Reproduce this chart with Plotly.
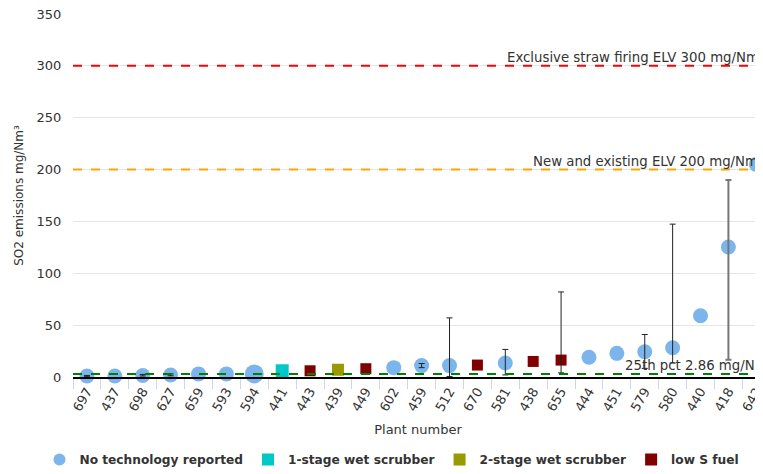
import plotly.graph_objects as go

# ─────────────────────────────────────────────────────────────────────────────
# Data
# ─────────────────────────────────────────────────────────────────────────────
plants = ["697", "437", "698", "627", "659", "593", "594", "441", "443", "439",
          "449", "602", "459", "512", "670", "581", "438", "655", "444", "451",
          "579", "580", "440", "418", "642"]
so2 = [1, 1, 1.5, 2, 3, 3, 3, 6, 6, 7,
       8, 9, 11, 11, 11.5, 13.5, 15, 16.3, 19, 22.8,
       24.3, 28.2, 59, 125.3, 205]
tech = ["none", "none", "none", "none", "none", "none", "none", "wet1", "lowS", "wet2",
        "lowS", "none", "none", "none", "lowS", "none", "lowS", "lowS", "none", "none",
        "none", "none", "none", "none", "none"]
err_lo = [0.3, None, 1.0, 1.2, None, None, None, None, None, None,
          None, None, 9, 0.5, None, 2, None, 4, None, None,
          8.3, 13.5, None, 16.6, None]
err_hi = [1.5, None, 2.5, 3.0, None, None, None, None, None, None,
          None, None, 13, 57, None, 26.6, None, 82, None, None,
          41, 147.4, None, 190, None]

series = [
    ("none", "No technology reported", "#7cb5ec", "circle", 15),
    ("wet1", "1-stage wet scrubber", "#00c8c8", "square", 13),
    ("wet2", "2-stage wet scrubber", "#999900", "square", 12),
    ("lowS", "low S fuel", "#800000", "square", 11),
]

# reference lines: value, colour, label, label start (paper x)
ref_lines = [
    (300, "#ff0000", "Exclusive straw firing ELV 300 mg/Nm³", 0.626),
    (200, "#ffa500", "New and existing ELV 200 mg/Nm³", 0.664),
    (2.86, "#008000", "25th pct 2.86 mg/Nm³", 0.797),
]

FONT = "DejaVu Sans"
GREY_BAR = "418"   # this one is drawn grey and thicker in the original

fig = go.Figure()

for key, name, color, symbol, size in series:
    xs = [p for p, t in zip(plants, tech) if t == key]
    ys = [v for v, t in zip(so2, tech) if t == key]
    sizes = [19 if p == "594" else size for p in xs]
    fig.add_trace(go.Scatter(
        x=xs, y=ys, mode="markers", name=name,
        marker=dict(color=color, symbol=symbol, size=sizes, opacity=1,
                    line=dict(width=0)),
        cliponaxis=False,
    ))


def _err_trace(sel, color, thick):
    ex, ey, eup, edn = [], [], [], []
    for p, v, lo, hi in zip(plants, so2, err_lo, err_hi):
        if lo is None or not sel(p):
            continue
        ex.append(p)
        ey.append(v)
        eup.append(hi - v)
        edn.append(v - lo)
    return go.Scatter(
        x=ex, y=ey, mode="markers", showlegend=False, hoverinfo="skip",
        marker=dict(size=1, opacity=0),
        error_y=dict(type="data", array=eup, arrayminus=edn, symmetric=False,
                     color=color, thickness=thick, width=3),
        cliponaxis=False,
    )


fig.add_trace(_err_trace(lambda p: p != GREY_BAR, "#222222", 1))
fig.add_trace(_err_trace(lambda p: p == GREY_BAR, "#777777", 2))

for yv, color, label, xs in ref_lines:
    fig.add_hline(y=yv, line_dash="dash", line_color=color, line_width=2)
    fig.add_annotation(
        x=xs, xref="paper", y=yv, yref="y", text=label, showarrow=False,
        xanchor="left", yanchor="bottom", yshift=-1,
        font=dict(family=FONT, size=13.3, color="#333333"),
    )

# page body has an 8px margin, so the figure is a bit smaller than the window
fig.update_layout(
    width=755, height=466,
    margin=dict(l=65, r=0, t=6, b=96),
    paper_bgcolor="white", plot_bgcolor="white",
    font=dict(family=FONT, color="#333333"),
    showlegend=True,
    legend=dict(
        orientation="h", x=-0.0486, xanchor="left", y=-0.226, yanchor="middle",
        font=dict(family=FONT, size=12.2, color="#333333", weight="bold"),
        itemsizing="constant", traceorder="normal",
    ),
    xaxis=dict(
        type="category", categoryorder="array", categoryarray=plants,
        range=[-0.5, 24.24], automargin=False,
        tickangle=-60, tickfont=dict(size=13, color="#333333"),
        tickson="boundaries", ticks="outside", ticklen=10, tickcolor="#ccd6eb",
        showline=True, linecolor="#000000", linewidth=1.5,
        showgrid=False, ticklabeloverflow="allow",
        title=dict(text="Plant number", font=dict(size=13, color="#333333"), standoff=12),
    ),
    yaxis=dict(
        range=[0, 350], dtick=50, automargin=False,
        gridcolor="#e6e6e6", zeroline=False, ticklabeloverflow="allow",
        ticks="outside", ticklen=8, tickcolor="rgba(0,0,0,0)",
        tickfont=dict(size=13, color="#333333"),
        title=dict(text="SO2 emissions mg/Nm³", font=dict(size=12, color="#333333"), standoff=10),
    ),
)

fig.write_html("out.html")
